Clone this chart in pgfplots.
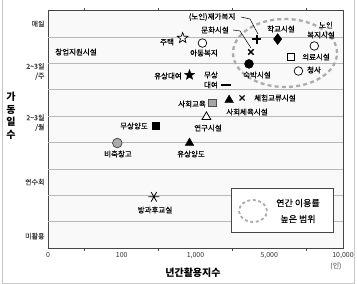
\documentclass[border=0pt]{standalone}
\usepackage{pgfplots}
\pgfplotsset{compat=1.18}
\usepackage{fontspec}
\setmainfont{Noto Sans CJK KR}
\newfontfamily\semib[FakeBold=0.35]{Noto Sans CJK KR}
\usetikzlibrary{plotmarks}

\pgfdeclareplotmark{fivestar}{%
  \pgfpathmoveto{\pgfpointpolar{90}{\pgfplotmarksize}}%
  \pgfpathlineto{\pgfpointpolar{126}{0.42\pgfplotmarksize}}%
  \pgfpathlineto{\pgfpointpolar{162}{\pgfplotmarksize}}%
  \pgfpathlineto{\pgfpointpolar{198}{0.42\pgfplotmarksize}}%
  \pgfpathlineto{\pgfpointpolar{234}{\pgfplotmarksize}}%
  \pgfpathlineto{\pgfpointpolar{270}{0.42\pgfplotmarksize}}%
  \pgfpathlineto{\pgfpointpolar{306}{\pgfplotmarksize}}%
  \pgfpathlineto{\pgfpointpolar{342}{0.42\pgfplotmarksize}}%
  \pgfpathlineto{\pgfpointpolar{18}{\pgfplotmarksize}}%
  \pgfpathlineto{\pgfpointpolar{54}{0.42\pgfplotmarksize}}%
  \pgfpathclose
  \pgfusepathqfillstroke
}

\newcommand{\lbl}{\semib\fontsize{7.5}{9}\selectfont}
\newcommand{\lab}[3]{\node[font=\lbl, inner sep=0pt] at (#1,{284-#2}) {#3};}

\begin{document}
\begin{tikzpicture}[x=1pt,y=1pt]
\useasboundingbox (0,0) rectangle (357,284);
\begin{axis}[
  at={(48pt,36pt)}, anchor=south west,
  scale only axis, width=295pt, height=237.4pt,
  xmin=0, xmax=4, ymin=0, ymax=9,
  clip=false,
  axis background/.style={fill=gray!5},
  axis line style={draw=gray!55!black, line width=0.9pt},
  xtick={0,1,2,3,4},
  xticklabels={0,100,{1,000},{5,000},{10,000}},
  ytick={0.45,2.5,4.75,6.7,8.5},
  yticklabels={미활용,연수회,{2\textasciitilde3일\\/월},{2\textasciitilde3일\\/주},매일},
  major tick length=0pt,
  minor xtick={0.5,1.5,2.5,3.5},
  minor tick length=3pt,
  tick align=outside,
  tick style={draw=gray!55!black, line width=0.8pt},
  extra y ticks={1,2,3,4,5,6,7,8},
  extra y tick labels={},
  extra y tick style={grid=major, major tick length=0pt},
  major grid style={draw=gray!55, line width=0.6pt},
  x tick label style={font=\fontsize{7}{8}\selectfont, text=black!80, yshift=-1pt},
  y tick label style={font=\semib\fontsize{7}{9.5}\selectfont, text=black!75, align=right},
]
% 주택
\addplot[only marks, mark=fivestar, mark size=5.5pt, mark options={draw=black, fill=white, line width=0.7pt}] coordinates {(1.826,7.96)};
% 아동복지
\addplot[only marks, mark=*, mark size=4.3pt, mark options={draw=black, fill=white, line width=0.7pt}] coordinates {(2.094,7.77)};
% (노인)재가복지
\addplot[only marks, mark=+, mark size=4.5pt, mark options={draw=black, line width=1.6pt}] coordinates {(2.832,7.92)};
% 문화시설
\addplot[only marks, mark=x, mark size=3.8pt, mark options={draw=black, line width=1.4pt}] coordinates {(2.752,7.43)};
% 숙박시설
\addplot[only marks, mark=*, mark size=4.5pt, mark options={draw=black, fill=black}] coordinates {(2.725,6.98)};
% 학교시설
\addplot[only marks, mark=diamond*, mark size=5.5pt, mark options={draw=black, fill=black}] coordinates {(3.114,7.92)};
% 노인복지시설
\addplot[only marks, mark=*, mark size=4.3pt, mark options={draw=black, fill=white, line width=0.7pt}] coordinates {(3.611,7.66)};
% 의료시설
\addplot[only marks, mark=square*, mark size=3.6pt, mark options={draw=black, fill=white, line width=0.8pt}] coordinates {(3.289,7.24)};
% 청사
\addplot[only marks, mark=*, mark size=4.3pt, mark options={draw=black, fill=white, line width=0.7pt}] coordinates {(3.396,6.71)};
% 유상대여
\addplot[only marks, mark=fivestar, mark size=5.3pt, mark options={draw=black, fill=black, line width=0.4pt}] coordinates {(1.919,6.56)};
% 무상대여
\addplot[only marks, mark=-, mark size=5pt, mark options={draw=black, line width=2.8pt}] coordinates {(2.416,6.18)};
% 사회교육
\addplot[only marks, mark=square*, mark size=3.8pt, mark options={draw=gray!60!black, fill=gray!70, line width=0.6pt}] coordinates {(2.228,5.50)};
% 사회체육시설
\addplot[only marks, mark=triangle*, mark size=5pt, mark options={draw=black, fill=black}] coordinates {(2.456,5.61)};
% 체험교류시설
\addplot[only marks, mark=x, mark size=3.6pt, mark options={draw=black, line width=1.2pt}] coordinates {(2.631,5.69)};
% 연구시설
\addplot[only marks, mark=triangle*, mark size=5pt, mark options={draw=black, fill=white, line width=0.8pt}] coordinates {(2.148,4.97)};
% 유상양도
\addplot[only marks, mark=triangle*, mark size=5pt, mark options={draw=black, fill=black}] coordinates {(1.919,3.98)};
% 무상양도
\addplot[only marks, mark=square*, mark size=3.8pt, mark options={draw=black, fill=black}] coordinates {(1.463,4.63)};
% 비축창고
\addplot[only marks, mark=*, mark size=4.8pt, mark options={draw=gray!50!black, fill=gray!65, line width=0.7pt}] coordinates {(0.940,3.98)};
% 방과후교실
\addplot[only marks, mark=asterisk, mark size=5.5pt, mark options={draw=black, line width=0.8pt, rotate=90}] coordinates {(1.436,1.94)};
\end{axis}

% outer frame
\draw[gray!45, line width=0.9pt] (2,284) -- (2,1) -- (354.5,1) -- (354.5,284);

% big dashed range
\draw[gray!65, line width=2.3pt, dash pattern=on 4pt off 3.2pt] (285,{284-53}) ellipse [x radius=52, y radius=34];

% leader lines
\draw[black, line width=0.5pt] (241,{284-17}) -- (250,{284-19}) -- (258,{284-34});
\draw[black, line width=0.5pt] (233,{284-30}) -- (240,{284-31}) -- (251,{284-48});

% labels
\lab{212}{17}{(노인)재가복지}
\lab{215}{30}{문화시설}
\lab{167}{42}{주택}
\lab{204}{53}{아동복지}
\lab{76}{52}{창업지원시설}
\lab{281}{29}{학교시설}
\lab{326}{25}{노인}
\lab{321}{35}{복지시설}
\lab{316}{57}{의료시설}
\lab{314}{70}{청사}
\lab{257}{75}{숙박시설}
\lab{168}{76}{유상대여}
\lab{211}{75}{무상}
\lab{211}{85}{대여}
\lab{192}{104}{사회교육}
\lab{247}{112}{사회체육시설}
\lab{275}{98}{체험교류시설}
\lab{208}{128}{연구시설}
\lab{191}{154}{유상양도}
\lab{134}{126}{무상양도}
\lab{118}{154}{비축창고}
\lab{155}{210}{방과후교실}

% legend box
\draw[gray!55!black, line width=0.8pt, fill=white] (231,{284-188}) rectangle (333,{284-232});
\draw[gray!65, line width=1.8pt, dash pattern=on 3pt off 2.6pt] (253,{284-211}) ellipse [x radius=14, y radius=11];
\node[font=\semib\fontsize{9}{10}\selectfont, inner sep=0pt] at (298,{284-203}) {연간 이용률};
\node[font=\semib\fontsize{9}{10}\selectfont, inner sep=0pt] at (298,{284-219}) {높은 범위};

% axis titles
\node[font=\bfseries\fontsize{10}{12.5}\selectfont, align=center, inner sep=0pt] at (11,{284-116}) {가\\동\\일\\수};
\node[font=\bfseries\fontsize{10}{12}\selectfont, inner sep=0pt] at (193,{284-273}) {년간활용지수};
\node[font=\fontsize{7}{8}\selectfont, text=black!80, inner sep=0pt] at (336,{284-266}) {(인)};
\end{tikzpicture}
\end{document}
